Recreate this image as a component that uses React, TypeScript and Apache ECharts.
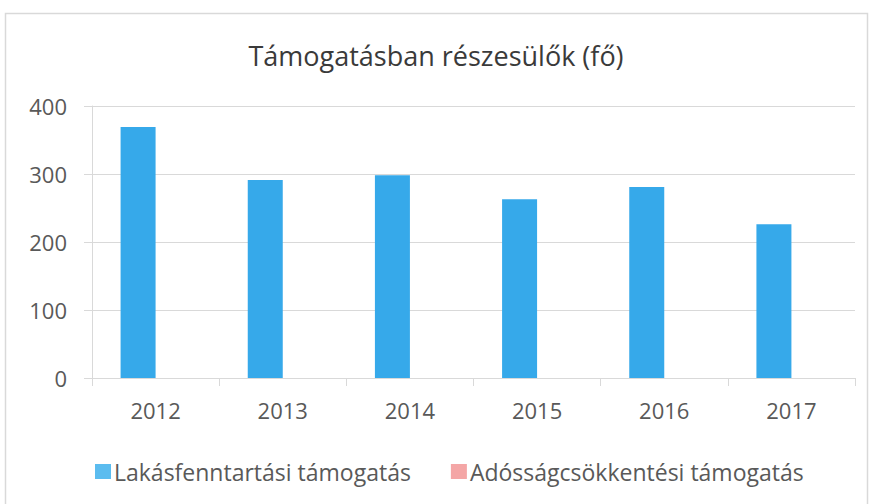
import React, { useEffect, useRef } from "react";
import * as echarts from "echarts";

const years = ["2012", "2013", "2014", "2015", "2016", "2017"];
const lakasfenntartasi = [369, 291, 298, 263, 281, 226];
const adossagcsokkentesi = [0, 0, 0, 0, 0, 0];
const yTicks = { min: 0, max: 400, interval: 100 };
const titleText = "Támogatásban részesülők (fő)";
const seriesNames = ["Lakásfenntartási támogatás", "Adósságcsökkentési támogatás"];

export default function App() {
  const ref = useRef<HTMLDivElement>(null);
  useEffect(() => {
    if (!ref.current) return;
    const chart = echarts.init(ref.current, null, { renderer: "svg" });
    const font = "'Open Sans', 'Noto Sans', sans-serif";
    chart.setOption({
      animation: false,
      backgroundColor: "#ffffff",
      textStyle: { fontFamily: font },
      graphic: [
        {
          type: "rect",
          shape: { x: 5.5, y: 13.5, width: 862, height: 500 },
          style: { fill: "none", stroke: "#d9d9d9", lineWidth: 1.5 },
          silent: true,
        },
      ],
      title: {
        text: titleText,
        left: "center",
        top: 37,
        textStyle: { fontSize: 27, fontWeight: "normal", color: "#3a3a3a", fontFamily: font },
      },
      legend: {
        top: 455,
        left: 90,
        itemWidth: 16,
        itemHeight: 15,
        itemGap: 40,
        icon: "rect",
        textStyle: { fontSize: 23, color: "#595959", fontFamily: font, padding: [0, 0, 0, -2] },
        data: [
          { name: seriesNames[0], itemStyle: { color: "#5bbcef" } },
          { name: seriesNames[1], itemStyle: { color: "#f4a6a6" } },
        ],
      },
      grid: { left: 92, right: 17, top: 106, bottom: 126, containLabel: false },
      xAxis: {
        type: "category",
        data: years,
        axisLine: { show: true, lineStyle: { color: "#d9d9d9" } },
        axisTick: { show: true, length: 8, lineStyle: { color: "#d9d9d9" } },
        axisLabel: { fontSize: 22, color: "#595959", margin: 21, fontFamily: font },
      },
      yAxis: {
        type: "value",
        min: yTicks.min,
        max: yTicks.max,
        interval: yTicks.interval,
        axisLine: { show: true, lineStyle: { color: "#d9d9d9" } },
        axisTick: { show: true, length: 8, lineStyle: { color: "#d9d9d9" } },
        axisLabel: { fontSize: 22, color: "#595959", margin: 25, fontFamily: font },
        splitLine: { show: true, lineStyle: { color: "#d9d9d9" } },
      },
      series: [
        {
          name: seriesNames[0],
          type: "bar",
          data: lakasfenntartasi,
          barWidth: 35,
          barGap: "0%",
          itemStyle: { color: "#36a9ea" },
        },
        {
          name: seriesNames[1],
          type: "bar",
          data: adossagcsokkentesi,
          barWidth: 35,
          itemStyle: { color: "#f4a6a6" },
        },
      ],
    });
    return () => chart.dispose();
  }, []);
  return (
    <div
      ref={ref}
      style={{ position: "fixed", left: 0, top: 0, width: 872, height: 504 }}
    />
  );
}
